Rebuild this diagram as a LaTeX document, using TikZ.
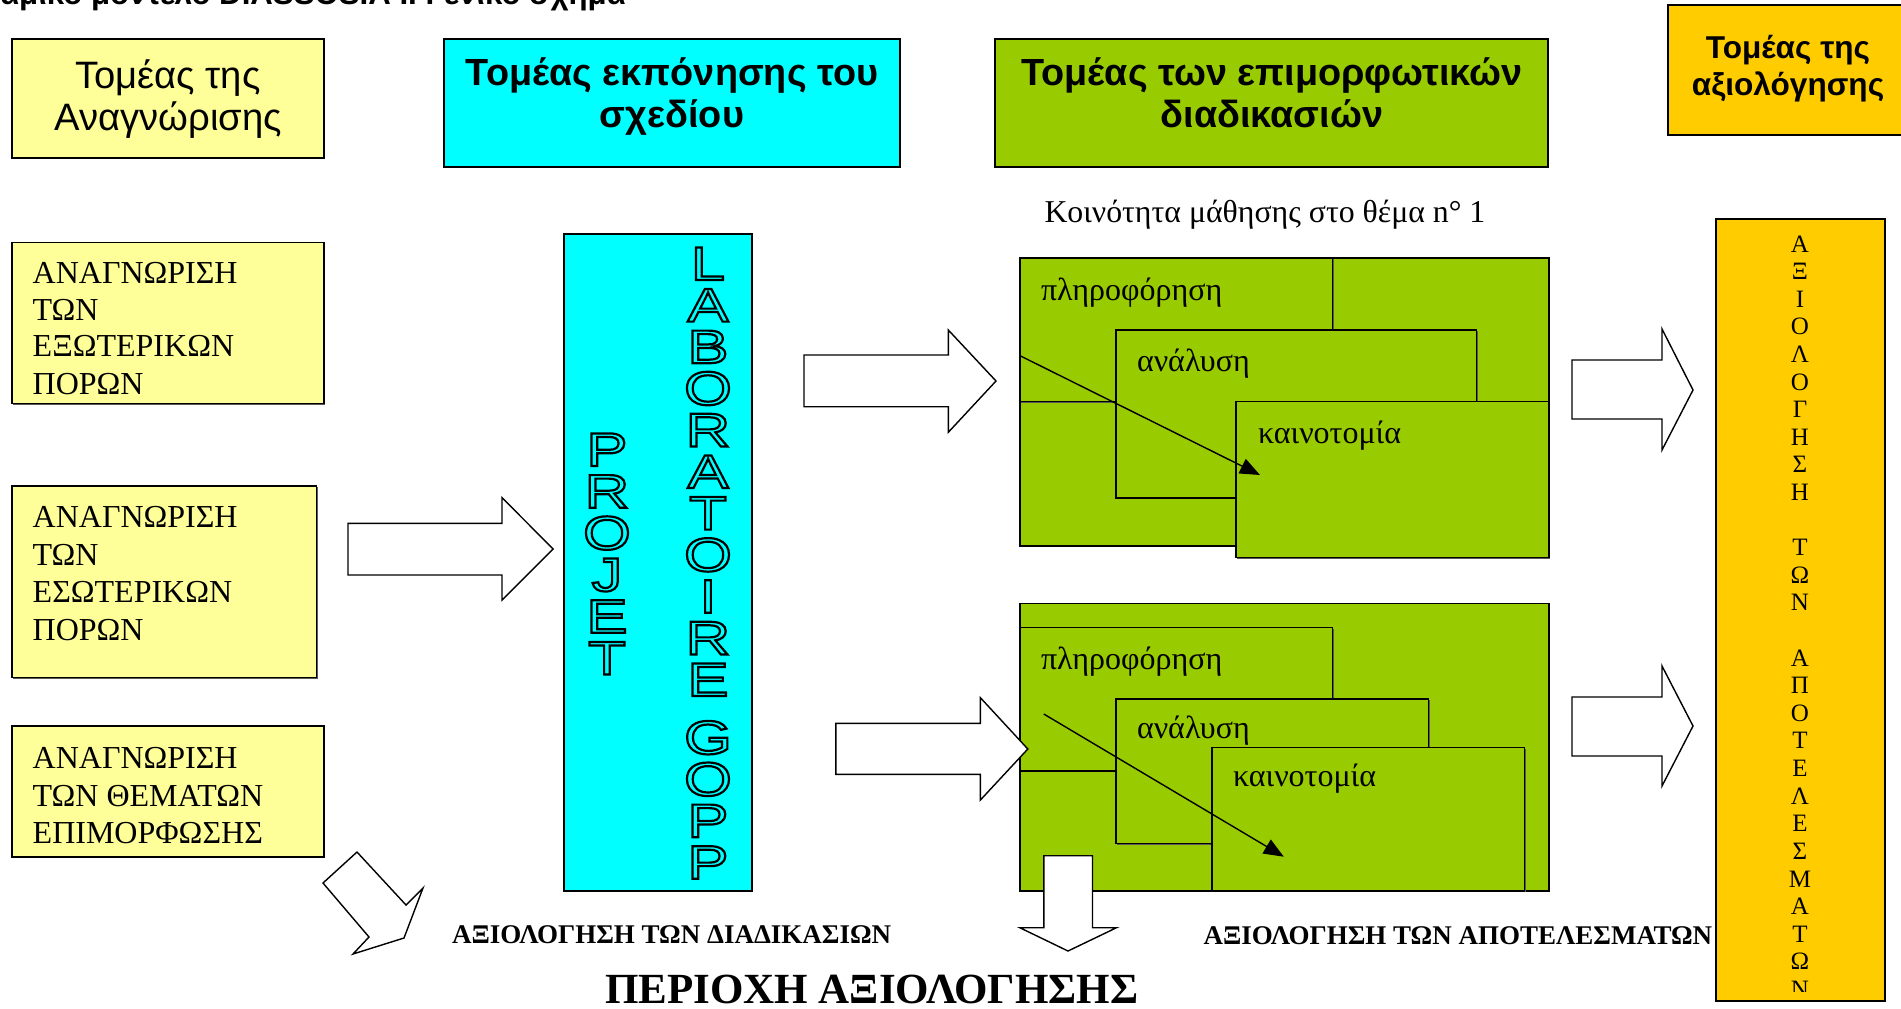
\documentclass[tikz,border=0pt]{standalone}
\usepackage{fontspec}
\setmainfont{Liberation Serif}
\setsansfont{Liberation Sans}
\newfontfamily\widesans[FakeStretch=1.3]{Liberation Sans}
\usetikzlibrary{fit,arrows.meta,shadows}
\definecolor{lyel}{HTML}{FFFF99}
\definecolor{cyn}{HTML}{00FFFF}
\definecolor{grn}{HTML}{99CC00}
\definecolor{org}{HTML}{FFCC00}
\newcommand\fsz[1]{\fontsize{#1pt}{#1pt}\selectfont}
\newcommand\outlinetext[1]{\special{pdf:literal direct 0 G 1.1 w 1 Tr}#1\special{pdf:literal direct 0 Tr}}
\tikzset{
  bx/.style={draw=black, line width=0.7pt, inner sep=0pt, outer sep=0pt,
    drop shadow={shadow xshift=0.6pt, shadow yshift=-0.6pt, fill=black!65, opacity=1}},
  txt/.style={inner sep=0pt, outer sep=0pt, anchor=base west},
  ctxt/.style={inner sep=0pt, outer sep=0pt, anchor=base},
  hreg/.style={ctxt, font=\sffamily\fsz{19.1}},
  hbold/.style={ctxt, font=\sffamily\bfseries\fsz{18.9}},
  hsmall/.style={ctxt, font=\sffamily\bfseries\fsz{15.8}},
  lbl/.style={txt, font=\rmfamily\fsz{16}},
  glbl/.style={txt, font=\rmfamily\fsz{16}},
  blabel/.style={txt, font=\rmfamily\bfseries\fsz{13.5}},
  olet/.style={ctxt, font=\widesans\fsz{23.7}},
  vlet/.style={inner sep=0pt, outer sep=0pt, anchor=center, font=\rmfamily\fsz{12.5}},
  barrow/.style={draw=black, fill=white, line width=0.7pt, line join=miter},
  flow/.style={line width=0.7pt, -{Triangle[length=10pt,width=8pt]}},
}
\begin{document}
\begin{tikzpicture}[x=0.5pt,y=-0.5pt]
\useasboundingbox (0,0) rectangle (1901,1008);
\fill[white] (0,0) rectangle (1901,1008);

% title (clipped at top)
\node[txt, font=\sffamily\bfseries\fsz{15.6}] (title) at (0,4) {αμικό μοντέλο DIASSOSIA II Γενικό σχήμα};

% headers
\node[bx, fill=lyel, fit={(12,39) (324,158)}] (hA) {};
\node[hreg] (hA1) at (168,88.5) {Τομέας της};
\node[hreg] (hA2) at (168,130) {Αναγνώρισης};

\node[bx, fill=cyn, fit={(444,39) (900,167)}] (hB) {};
\node[hbold] (hB1) at (672,85) {Τομέας εκπόνησης του};
\node[hbold] (hB2) at (672,127) {σχεδίου};

\node[bx, fill=grn, fit={(995,39) (1548,167)}] (hC) {};
\node[hbold] (hC1) at (1272,85) {Τομέας των επιμορφωτικών};
\node[hbold] (hC2) at (1272,127) {διαδικασιών};

\node[bx, fill=org, fit={(1668,5) (1912,135)}] (hD) {};
\node[hsmall] (hD1) at (1788,58) {Τομέας της};
\node[hsmall] (hD2) at (1788,95) {αξιολόγησης};

% left boxes
\node[bx, fill=lyel, fit={(12,242.5) (324,403.7)}] (L1) {};
\node[lbl] (L1a) at (32.7,283.7) {ΑΝΑΓΝΩΡΙΣΗ};
\node[lbl] (L1b) at (32.7,320) {ΤΩΝ};
\node[lbl] (L1c) at (32.7,356.4) {ΕΞΩΤΕΡΙΚΩΝ};
\node[lbl] (L1d) at (32.7,394) {ΠΟΡΩΝ};

\node[bx, fill=lyel, fit={(12,486) (316.4,677.7)}] (L2) {};
\node[lbl] (L2a) at (32.7,527.4) {ΑΝΑΓΝΩΡΙΣΗ};
\node[lbl] (L2b) at (32.7,565) {ΤΩΝ};
\node[lbl] (L2c) at (32.7,602.6) {ΕΣΩΤΕΡΙΚΩΝ};
\node[lbl] (L2d) at (32.7,640) {ΠΟΡΩΝ};

\node[bx, fill=lyel, fit={(12,726) (324,857)}] (L3) {};
\node[lbl] (L3a) at (32.7,768.7) {ΑΝΑΓΝΩΡΙΣΗ};
\node[lbl] (L3b) at (32.7,806) {ΤΩΝ ΘΕΜΑΤΩΝ};
\node[lbl] (L3c) at (32.7,843.8) {ΕΠΙΜΟΡΦΩΣΗΣ};

% cyan tall box
\node[bx, fill=cyn, fit={(564,234) (752,891)}] (lab) {};
\foreach \c [count=\i from 0] in {P,R,O,J,E,T}
  \node[olet] (pj\i) at (607,466+41.7*\i) {\outlinetext{\c}};
\foreach \c [count=\i from 0] in {L,A,B,O,R,A,T,O,I,R,E}
  \node[olet] (lb\i) at (708,280+41.6*\i) {\outlinetext{\c}};
\foreach \c [count=\i from 0] in {G,O,P,P}
  \node[olet] (gp\i) at (708,754+41.6*\i) {\outlinetext{\c}};

% green group 1
\node[glbl, font=\rmfamily\fsz{15.9}] (koin) at (1044.5,222) {Κοινότητα μάθησης στο θέμα n° 1};
\node[bx, fill=grn, fit={(1020,258) (1549,546)}] (g1) {};
\node[bx, fill=grn, fit={(1020,258) (1332.5,401.7)}] (g1p) {};
\node[bx, fill=grn, fit={(1116,330) (1476.5,498)}] (g1a) {};
\node[bx, fill=grn, fit={(1236,401.7) (1549,557.7)}] (g1k) {};
\node[glbl] (g1pt) at (1041,300) {πληροφόρηση};
\node[glbl] (g1at) at (1137,371.7) {ανάλυση};
\node[glbl] (g1kt) at (1258,443) {καινοτομία};
\coordinate (g1s) at (1020,355.7);
\coordinate (g1e) at (1260,475);
\draw[flow] (g1s) -- (g1e);

% green group 2
\node[bx, fill=grn, fit={(1020,603.3) (1549,891)}] (g2) {};
\node[bx, fill=grn, fit={(1020,627.3) (1332.5,771)}] (g2p) {};
\node[bx, fill=grn, fit={(1116,699) (1428.5,843.3)}] (g2a) {};
\node[bx, fill=grn, fit={(1212,747.3) (1524.5,891)}] (g2k) {};
\node[glbl] (g2pt) at (1041,669) {πληροφόρηση};
\node[glbl] (g2at) at (1137,738.3) {ανάλυση};
\node[glbl] (g2kt) at (1233,786.7) {καινοτομία};
\coordinate (g2s) at (1043.8,714);
\coordinate (g2e) at (1283.8,856.7);
\draw[flow] (g2s) -- (g2e);

% orange vertical box
\node[bx, fill=org, fit={(1716,219) (1885,1001)}] (ev) {};
\begin{scope}
\clip (1716,219) rectangle (1885,991);
\foreach \k/\c in {0/Α,1/Ξ,2/Ι,3/Ο,4/Λ,5/Ο,6/Γ,7/Η,8/Σ,9/Η,11/Τ,12/Ω,13/Ν,15/Α,16/Π,17/Ο,18/Τ,19/Ε,20/Λ,21/Ε,22/Σ,23/Μ,24/Α,25/Τ,26/Ω,27/Ν}
  \node[vlet] (v\k) at (1800,244+27.6*\k) {\c};
\end{scope}

% block arrows
\draw[barrow] (348,523.3) -- (502,523.3) -- (502,497.7) -- (553.2,549) -- (502,600) -- (502,575) -- (348,575) -- cycle;
\draw[barrow] (804,355) -- (948.3,355) -- (948.3,330) -- (996,381) -- (948.3,432.3) -- (948.3,406.7) -- (804,406.7) -- cycle;
\draw[barrow] (835.8,723.3) -- (980.4,723.3) -- (980.4,697.7) -- (1027.8,749) -- (980.4,800) -- (980.4,774.3) -- (835.8,774.3) -- cycle;
\draw[barrow] (1572,360) -- (1662,360) -- (1662,329) -- (1693,390) -- (1662,450) -- (1662,419) -- (1572,419) -- cycle;
\draw[barrow] (1572,697) -- (1662,697) -- (1662,666) -- (1693,726) -- (1662,786) -- (1662,756) -- (1572,756) -- cycle;
\draw[barrow] (1043.8,855.7) -- (1092.5,855.7) -- (1092.5,927.7) -- (1116.5,927.7) -- (1068,951) -- (1019.8,927.7) -- (1043.8,927.7) -- cycle;
\draw[barrow] (357,852) -- (406,905) -- (423,888) -- (404,938) -- (353,954) -- (369,937) -- (323,883) -- cycle;

% bottom labels
\node[blabel] (evp) at (452,943) {ΑΞΙΟΛΟΓΗΣΗ ΤΩΝ ΔΙΑΔΙΚΑΣΙΩΝ};
\node[blabel] (evr) at (1203.5,944) {ΑΞΙΟΛΟΓΗΣΗ ΤΩΝ ΑΠΟΤΕΛΕΣΜΑΤΩΝ};
\node[txt, font=\rmfamily\bfseries\fsz{21.5}] (area) at (605,1003) {ΠΕΡΙΟΧΗ ΑΞΙΟΛΟΓΗΣΗΣ};
\end{tikzpicture}
\end{document}
